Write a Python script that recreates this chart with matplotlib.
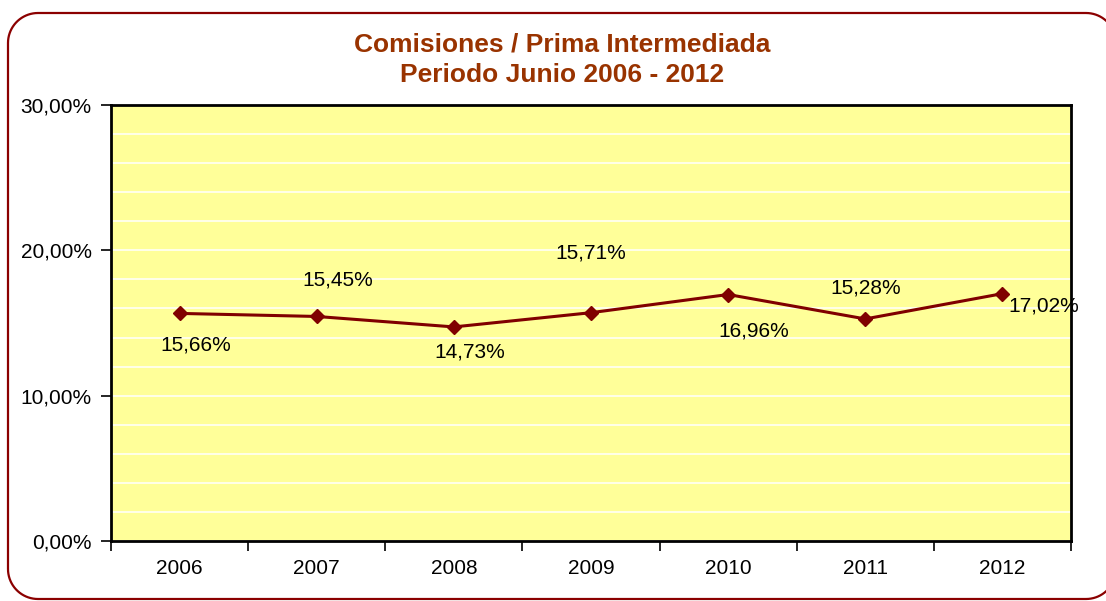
import matplotlib
matplotlib.use("Agg")
import numpy as np
import matplotlib.pyplot as plt
from matplotlib.path import Path
from matplotlib.patches import PathPatch
from matplotlib.transforms import IdentityTransform
from matplotlib.ticker import FuncFormatter, MultipleLocator, FixedLocator

plt.rcParams["font.family"] = ["Liberation Sans", "DejaVu Sans"]

# ----------------------------------------------------------------
# DATA
# ----------------------------------------------------------------
years = ["2006", "2007", "2008", "2009", "2010", "2011", "2012"]
ratios = [15.66, 15.45, 14.73, 15.71, 16.96, 15.28, 17.02]
# label offsets in pixels (dx, dy) relative to each point
label_offsets = [(16, -32), (21, 36), (16, -25), (0, 60), (26, -36), (0, 31), (41, -12)]

TITLE_COLOR = "#993300"
LINE_COLOR = "#800000"
PLOT_BG = "#FFFF99"
W, H = 1106, 601


def pct(v, _pos=None):
    return f"{v:.2f}%".replace(".", ",")


def rounded_rect(x0, y0, x1, y1, r, n=20):
    # corners in display pixels (y up), counter-clockwise starting bottom-left
    pts = []
    for cx, cy, a0 in [(x0 + r, y0 + r, 180), (x1 - r, y0 + r, 270),
                       (x1 - r, y1 - r, 0), (x0 + r, y1 - r, 90)]:
        a = np.radians(np.linspace(a0, a0 + 90, n))
        pts.extend(zip(cx + r * np.cos(a), cy + r * np.sin(a)))
    pts.append(pts[0])
    return Path(pts)


fig = plt.figure(figsize=(W / 100, H / 100), dpi=100)
ax = fig.add_axes([111 / W, 60 / H, 960 / W, 436 / H])
ax.set_facecolor(PLOT_BG)

# rounded border around the whole chart (right side runs off the image)
border = PathPatch(rounded_rect(8, H - 599, 1116, H - 13, 30), fill=False,
                   edgecolor="#8B0000", linewidth=1.6, transform=IdentityTransform())
fig.patches.append(border)

x = list(range(len(years)))
ax.plot(x, ratios, color=LINE_COLOR, linewidth=2.2, marker="D",
        markersize=7, markerfacecolor=LINE_COLOR, markeredgecolor=LINE_COLOR, zorder=3)

for xi, yi, (dx, dy) in zip(x, ratios, label_offsets):
    ax.annotate(pct(yi), (xi, yi), xytext=(dx, dy), textcoords="offset pixels",
                ha="center", va="center", fontsize=15, color="black", zorder=4,
                annotation_clip=False)

# axes
ax.set_xlim(-0.5, len(years) - 0.5)
ax.set_ylim(0, 30)
ax.yaxis.set_major_locator(MultipleLocator(10))
ax.yaxis.set_major_formatter(FuncFormatter(pct))
ax.set_yticks([v for v in range(0, 31, 2)], minor=True)
ax.grid(which="both", axis="y", color="white", linewidth=1.1, zorder=1)
ax.set_axisbelow(True)

ax.set_xticks(x)
ax.set_xticklabels(years)
ax.xaxis.set_minor_locator(FixedLocator([i - 0.5 for i in range(len(years) + 1)]))
ax.tick_params(axis="x", which="major", length=0, labelsize=15, pad=13)
ax.tick_params(axis="x", which="minor", length=7, width=1.2, direction="out")
ax.tick_params(axis="y", which="major", length=7, width=1.2, direction="out",
               labelsize=15, pad=7)
ax.tick_params(axis="y", which="minor", length=0)

for s in ax.spines.values():
    s.set_linewidth(2)
    s.set_color("black")

fig.text(562 / W, 1 - 45 / H, "Comisiones / Prima Intermediada", ha="center", va="center",
         fontsize=19, fontweight="bold", color=TITLE_COLOR)
fig.text(562 / W, 1 - 75 / H, "Periodo Junio 2006 - 2012", ha="center", va="center",
         fontsize=19, fontweight="bold", color=TITLE_COLOR)

fig.savefig("out.png", dpi=100)
